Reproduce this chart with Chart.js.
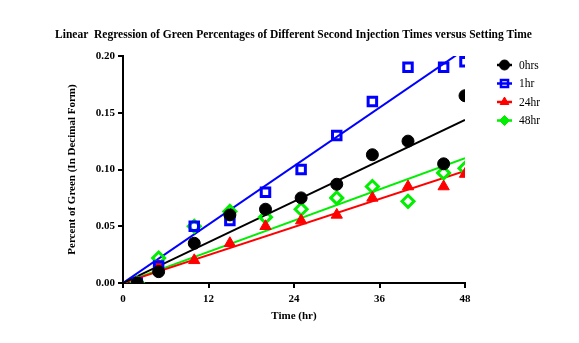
<!DOCTYPE html>
<html>
<head>
<meta charset="utf-8">
<script src="https://cdn.jsdelivr.net/npm/chart.js@4"></script>
<style>
html,body{margin:0;padding:0;background:#fff;}
#wrap{width:579px;height:343px;position:relative;}
</style>
</head>
<body>
<div id="wrap"><canvas id="c" width="579" height="343"></canvas></div>
<script>
const titleText = "Linear  Regression of Green Percentages of Different Second Injection Times versus Setting Time";
const xTitle = "Time (hr)";
const yTitle = "Percent of Green (In Decimal Form)";
const times = [2, 5, 10, 15, 20, 25, 30, 35, 40, 45, 48];
const seriesNames = ["0hrs", "1hr", "24hr", "48hr"];
const hrs0 = [0.000, 0.010, 0.035, 0.060, 0.065, 0.075, 0.087, 0.113, 0.125, 0.105, 0.165];
const hr1 = [0.000, 0.015, 0.050, 0.055, 0.080, 0.100, 0.130, 0.160, 0.190, 0.190, 0.195];
const hr24 = [0.000, 0.015, 0.020, 0.035, 0.050, 0.055, 0.060, 0.075, 0.085, 0.085, 0.096];
const hr48 = [0.000, 0.022, 0.050, 0.063, 0.058, 0.065, 0.075, 0.085, 0.072, 0.097, 0.101];
// regression line end points, at x = fitX
const fitX = [0, 48];
const fit0hrs = [0, 0.1436];
const fit1hr = [0, 0.206];
const fit24hr = [0, 0.0987];
const fit48hr = [0, 0.110];
const xTicks = [0, 12, 24, 36, 48];
const yTicks = [0, 0.05, 0.10, 0.15, 0.20];

const colors = ["#000000", "#0000ff", "#ff0000", "#00ee00"];
const styles = ["circle", "rect", "triangle", "rectRot"];
const filled = [true, false, true, false];
const legendFilled = [true, false, true, true];
const radii = [6, 6, 6.5, 6];
const values = [hrs0, hr1, hr24, hr48];
const fits = [fit0hrs, fit1hr, fit24hr, fit48hr];
const serif = '"Liberation Serif", "Times New Roman", serif';

const datasets = [];
fits.forEach((f, i) => {
  datasets.push({
    type: 'line',
    label: seriesNames[i] + ' fit',
    data: fitX.map((x, j) => ({x: x, y: f[j]})),
    borderColor: colors[i],
    borderWidth: 2,
    pointRadius: 0,
    fill: false,
    order: 5
  });
});
values.forEach((v, i) => {
  datasets.push({
    type: 'scatter',
    label: seriesNames[i],
    data: times.map((t, j) => ({x: t, y: v[j]})),
    pointStyle: styles[i],
    pointRadius: radii[i],
    pointBackgroundColor: filled[i] ? colors[i] : 'rgba(0,0,0,0)',
    pointBorderColor: colors[i],
    pointBorderWidth: filled[i] ? 1 : 3,
    showLine: false,
    order: 1
  });
});

const customText = {
  id: 'customText',
  afterDraw(chart) {
    const ctx = chart.ctx;
    // title
    ctx.save();
    ctx.fillStyle = '#000';
    ctx.font = 'bold 11.5px ' + serif;
    ctx.textAlign = 'center';
    ctx.textBaseline = 'middle';
    ctx.fillText(titleText, 293.5, 35);
    ctx.restore();
    // legend
    seriesNames.forEach((name, i) => {
      const y = 65 + i * 18.5;
      ctx.save();
      ctx.fillStyle = legendFilled[i] ? colors[i] : '#ffffff';
      ctx.strokeStyle = colors[i];
      ctx.lineWidth = legendFilled[i] ? 1 : 2.5;
      Chart.helpers.drawPoint(ctx, {pointStyle: styles[i], radius: 5, borderWidth: ctx.lineWidth}, 504.5, y);
      ctx.strokeStyle = colors[i];
      ctx.lineWidth = 2.5;
      ctx.beginPath();
      ctx.moveTo(497, y);
      ctx.lineTo(512, y);
      ctx.stroke();
      ctx.fillStyle = '#000';
      ctx.font = '11.5px ' + serif;
      ctx.textBaseline = 'middle';
      ctx.textAlign = 'left';
      ctx.fillText(name, 519, y + 0.5);
      ctx.restore();
    });
  }
};

new Chart(document.getElementById('c'), {
  type: 'scatter',
  data: {datasets},
  plugins: [customText],
  options: {
    responsive: false,
    animation: false,
    layout: {padding: {left: 66, right: 114, top: 56, bottom: 20}},
    plugins: {
      legend: {display: false},
      tooltip: {enabled: false},
      title: {display: false}
    },
    scales: {
      x: {
        type: 'linear',
        min: 0, max: 48,
        afterBuildTicks: s => { s.ticks = xTicks.map(v => ({value: v})); },
        ticks: {color: '#000', font: {family: serif, size: 11, weight: 'bold'}, padding: 5, maxRotation: 0},
        grid: {display: true, drawOnChartArea: false, drawTicks: true, tickLength: 5, color: '#000', lineWidth: 2},
        border: {display: true, color: '#000', width: 2},
        title: {display: true, text: xTitle, color: '#000', font: {family: serif, size: 11, weight: 'bold'}, padding: {top: 0, bottom: 0}},
        afterFit: s => { s.height = 40; }
      },
      y: {
        type: 'linear',
        min: 0, max: 0.2,
        afterBuildTicks: s => { s.ticks = yTicks.map(v => ({value: v})); },
        ticks: {color: '#000', font: {family: serif, size: 11, weight: 'bold'}, padding: 3,
          callback: v => Number(v).toFixed(2)},
        grid: {display: true, drawOnChartArea: false, drawTicks: true, tickLength: 5, color: '#000', lineWidth: 2},
        border: {display: true, color: '#000', width: 2},
        title: {display: true, text: yTitle, color: '#000', font: {family: serif, size: 11, weight: 'bold'}, padding: {top: 0, bottom: 0}},
        afterFit: s => { s.width = 57; }
      }
    }
  }
});
</script>
</body>
</html>
